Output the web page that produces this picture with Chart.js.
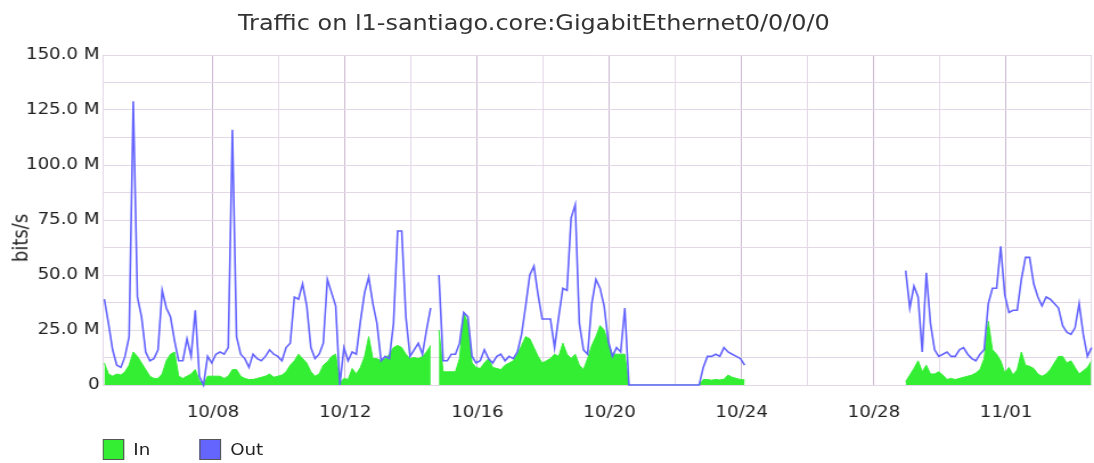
<!DOCTYPE html>
<html>
<head>
<meta charset="utf-8">
<script src="https://cdn.jsdelivr.net/npm/chart.js@4.4.0/dist/chart.umd.min.js"></script>
<style>
  html, body { margin: 0; padding: 0; background: #fff; overflow: hidden; }
  /* the source image is stretched horizontally, so the whole figure is too */
  #fig { position: relative; width: 960px; height: 463px; transform: scaleX(1.1396); transform-origin: 0 0; font-family: 'DejaVu Sans', sans-serif; }
  #chart { position: absolute; left: 0; top: 0; width: 960px; height: 463px; }
  #title { position: absolute; left: 0; width: 937px; top: 11px; text-align: center; font-size: 21px; color: #333; white-space: nowrap; }
  #ylabel { position: absolute; left: 17.5px; top: 238px; font-size: 18px; color: #222; white-space: nowrap; transform: translate(-50%, -50%) rotate(-90deg); }
  .item { position: absolute; top: 439px; height: 21px; display: flex; align-items: center; }
  .swatch { width: 17px; height: 19px; border: 1px solid #555; margin-right: 8px; }
  .item span { font-size: 16px; color: #222; }
</style>
</head>
<body>
<div id="fig">
  <canvas id="chart" width="960" height="463"></canvas>
  <div id="title">Traffic on l1-santiago.core:GigabitEthernet0/0/0/0</div>
  <div id="ylabel">bits/s</div>
  <div class="item" style="left:90px"><div class="swatch" style="background:#33ee33"></div><span>In</span></div>
  <div class="item" style="left:175px"><div class="swatch" style="background:#6464ff"></div><span>Out</span></div>
</div>
<script>
// --- datos (Mbit/s, una muestra cada 3 horas) ---
const dayLabels = ['10/08', '10/12', '10/16', '10/20', '10/24', '10/28', '11/01'];
const startDay = -3.29;   // dias respecto a 10/08 00:00
const stepDay = 0.125;

const outMbps = [
  39, 28, 16, 9, 8, 13, 22, 129, 40, 31, 15, 11, 12, 16, 43, 35, 31, 20, 11, 11,
  21, 13, 34, 4, 0, 13, 10, 14, 15, 14, 17, 116, 22, 14, 12, 8, 14, 12, 11, 13,
  16, 14, 13, 11, 17, 19, 40, 39, 46, 36, 17, 12, 14, 19, 48, 42, 36, 0, 17, 11,
  15, 14, 29, 42, 49, 37, 28, 11, 13, 12, 28, 70, 70, 31, 13, 16, 19, 14, 25, 35,
  null, 50, 11, 11, 14, 14, 19, 33, 31, 13, 10, 11, 16, 12, 10, 13, 14, 11, 13, 12,
  15, 23, 36, 50, 54, 41, 30, 30, 30, 17, 31, 44, 43, 76, 82, 28, 16, 14, 37, 48,
  44, 36, 20, 13, 17, 15, 35, 0, 0, 0, 0, 0, 0, 0, 0, 0, 0, 0, 0, 0,
  0, 0, 0, 0, 0, 8, 13, 13, 14, 13, 17, 15, 14, 13, 12, 9, null, null, null, null,
  null, null, null, null, null, null, null, null, null, null, null, null, null, null, null, null, null, null, null, null,
  null, null, null, null, null, null, null, null, null, null, null, null, null, null, 52, 35, 45, 40, 15, 51,
  28, 16, 13, 14, 15, 13, 13, 16, 17, 14, 12, 11, 14, 16, 37, 44, 44, 63, 41, 33,
  34, 34, 48, 58, 58, 46, 40, 36, 40, 39, 37, 35, 27, 24, 23, 26, 37, 23, 13, 17
];

const inMbps = [
  10, 5, 4, 5, 4.5, 6, 9, 15, 13, 10, 7, 4, 3, 3, 5, 11, 14, 15, 4, 3,
  4, 5, 7, 2, 0, 4, 4, 4, 4, 3, 4, 7, 7, 4, 3, 2.5, 2.5, 3, 3.5, 4,
  5, 3.5, 4, 4.5, 6, 9, 11, 14, 12, 10, 6, 4, 5, 9, 10.5, 13, 14, 1, 3, 2.5,
  7.5, 5, 8, 13, 22, 12, 12, 11, 12, 14, 17, 18, 17, 14, 12, 12.5, 12, 13, 15, 18,
  null, 25, 6, 6, 6, 6, 12, 33, 28, 10, 8, 7.5, 10, 12, 8, 7.5, 7, 9, 10, 11,
  14, 18, 22, 21, 17, 13, 10, 11, 12, 14, 13, 19, 14, 12, 14, 9, 7, 12, 18, 22,
  27, 25, 19, 14, 14, 14, 14, 0, 0, 0, 0, 0, 0, 0, 0, 0, 0, 0, 0, 0,
  0, 0, 0, 0, 0, 2.5, 2.5, 2.2, 2.5, 2.3, 2.6, 4.5, 3.5, 3, 2.5, 2.3, null, null, null, null,
  null, null, null, null, null, null, null, null, null, null, null, null, null, null, null, null, null, null, null, null,
  null, null, null, null, null, null, null, null, null, null, null, null, null, null, 1.5, 4.5, 7.5, 11, 6, 9,
  5, 5, 6, 4.5, 2.5, 3, 2.5, 3, 3.5, 4, 4.5, 5.5, 7, 12, 29, 16, 14, 11, 5.5, 8,
  4.5, 7, 15, 9, 8.5, 7.5, 5, 4, 5, 7, 10, 13, 13, 10, 11, 8, 5, 6.5, 8, 11
];

function toPoints(values) {
  return values.map((v, i) => ({ x: startDay + i * stepDay, y: v }));
}

// --- estilo ---
Chart.defaults.font.family = "'DejaVu Sans', sans-serif";
Chart.defaults.color = '#222';

const gridMinor = '#e4d8e8';
const gridMajor = '#cbb8d0';

new Chart(document.getElementById('chart'), {
  type: 'line',
  data: {
    datasets: [
      { label: 'Out', data: toPoints(outMbps), borderColor: '#6464ff', borderWidth: 1.6, pointRadius: 0, fill: false, tension: 0, clip: 3 },
      { label: 'In', data: toPoints(inMbps), borderColor: '#33ee33', backgroundColor: '#33ee33', borderWidth: 1, pointRadius: 0, fill: 'origin', tension: 0 }
    ]
  },
  options: {
    responsive: false,
    animation: false,
    events: [],
    layout: { padding: { top: 55, right: 2.6, bottom: 40, left: 0 } },
    plugins: { legend: { display: false }, tooltip: { enabled: false } },
    scales: {
      x: {
        type: 'linear', min: -3.33, max: 26.57,
        afterFit: s => { s.height = 38; },
        // marcas invisibles: empujan las etiquetas hacia abajo sin reservar margen a la derecha
        grid: { color: c => (c.tick && c.tick.value % 4 === 0) ? gridMajor : gridMinor, drawTicks: true, tickLength: 16, tickColor: 'rgba(0,0,0,0)' },
        border: { color: gridMinor },
        ticks: {
          stepSize: 2, padding: 2, maxRotation: 0, autoSkip: false, font: { size: 16 },
          callback: v => v % 4 === 0 ? dayLabels[v / 4] : ''
        }
      },
      y: {
        min: 0, max: 150,
        afterFit: s => { s.width = 90.4; },
        grid: { color: gridMinor, drawTicks: false },
        border: { color: gridMinor },
        ticks: {
          stepSize: 12.5, padding: 3, font: { size: 16 },
          callback: v => v % 25 !== 0 ? '' : (v === 0 ? '0' : v.toFixed(1) + ' M')
        }
      }
    }
  }
});
</script>
</body>
</html>
